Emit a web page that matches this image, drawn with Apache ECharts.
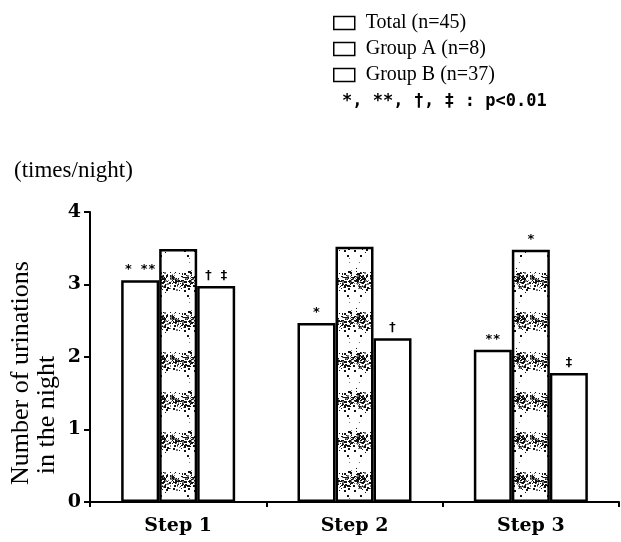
<!DOCTYPE html>
<html>
<head>
<meta charset="utf-8">
<script src="https://cdn.jsdelivr.net/npm/echarts@6/dist/echarts.min.js"></script>
<style>
  html, body { margin: 0; padding: 0; background: #fff; }
  #chart { width: 621px; height: 542px; }
</style>
</head>
<body>
<div id="chart"></div>
<script>
// values
const steps = ['Step 1', 'Step 2', 'Step 3']
const totalVals = [3.06, 2.47, 2.10]
const groupAVals = [3.49, 3.52, 3.48]
const groupBVals = [2.98, 2.26, 1.78]
const totalMarks = ['* **', '*', '**']
const groupAMarks = ['', '', '*']
const groupBMarks = ['† ‡', '†', '‡']
const yTicks = [0, 1, 2, 3, 4]

// speckled band texture for group A (deterministic)
function makeSpeckle () {
  let c = document.createElement('canvas')
  c.width = 40
  c.height = 40
  let ctx = c.getContext('2d')
  ctx.fillStyle = '#fff'
  ctx.fillRect(0, 0, 40, 40)
  let seed = 11
  let rnd = () => { seed = (seed * 1103515245 + 12345) % 2147483648; return seed / 2147483648 }
  for (let y = 0; y < 40; y++) {
    let d = Math.abs((y % 40) - 20) / 20
    let dens = d < 0.45 ? 0.015 : (d - 0.45) * 0.85
    for (let x = 0; x < 40; x++) {
      let edge = (x < 3 || x > 36) ? 1.4 : 1
      if (rnd() < dens * edge) {
        ctx.fillStyle = rnd() < 0.7 ? '#111' : '#777'
        let s = rnd() < 0.3 ? 2 : 1
        ctx.fillRect(x, y, s, s)
      }
    }
  }
  return c
}
const speckle = makeSpeckle()

const markLabel = (marks) => ({
  show: true,
  position: 'top',
  distance: 4,
  color: '#000',
  fontFamily: 'DejaVu Sans Mono',
  fontWeight: 'bold',
  fontSize: 13,
  formatter: p => marks[p.dataIndex]
})

let chart = echarts.init(document.getElementById('chart'))
let option = {
  animation: false,
  backgroundColor: '#fff',
  grid: {
    left: 90,
    right: 2,
    top: 212,
    bottom: 40
  },
  legend: {
    orient: 'vertical',
    left: 333,
    top: 13,
    padding: 0,
    itemWidth: 21,
    itemHeight: 13,
    itemGap: 6,
    icon: 'rect',
    textStyle: {
      fontFamily: 'Liberation Serif',
      fontSize: 20,
      color: '#000',
      padding: [0, 0, 0, 6]
    },
    data: [
      { name: 'Total (n=45)', itemStyle: { color: '#fff', borderColor: '#000', borderWidth: 1.5 } },
      { name: 'Group A (n=8)', itemStyle: { color: '#fff', borderColor: '#000', borderWidth: 1.5 } },
      { name: 'Group B (n=37)', itemStyle: { color: '#fff', borderColor: '#000', borderWidth: 1.5 } }
    ]
  },
  graphic: [
    {
      type: 'text',
      left: 342,
      top: 93,
      style: {
        text: '*, **, †, ‡ : p<0.01',
        font: 'bold 17px "DejaVu Sans Mono"',
        fill: '#000'
      }
    },
    {
      type: 'text',
      left: 14,
      top: 159,
      style: {
        text: '(times/night)',
        font: '23px "Liberation Serif"',
        fill: '#000'
      }
    },
    {
      type: 'text',
      x: 21,
      y: 373,
      rotation: Math.PI / 2,
      style: {
        text: 'Number of urinations',
        font: '26px "Liberation Serif"',
        fill: '#000',
        align: 'center',
        verticalAlign: 'middle'
      }
    },
    {
      type: 'text',
      x: 47,
      y: 415,
      rotation: Math.PI / 2,
      style: {
        text: 'in the night',
        font: '26px "Liberation Serif"',
        fill: '#000',
        align: 'center',
        verticalAlign: 'middle'
      }
    }
  ],
  xAxis: {
    type: 'category',
    data: steps,
    axisLine: { show: true, lineStyle: { color: '#000', width: 2 } },
    axisTick: { show: true, length: 5, lineStyle: { color: '#000', width: 2 } },
    axisLabel: {
      color: '#000',
      fontFamily: 'DejaVu Serif',
      fontWeight: 'bold',
      fontSize: 19,
      margin: 15
    },
    splitLine: { show: false }
  },
  yAxis: {
    type: 'value',
    min: yTicks[0],
    max: yTicks[yTicks.length - 1],
    interval: 1,
    axisLine: { show: true, lineStyle: { color: '#000', width: 2 } },
    axisTick: { show: true, length: 6, lineStyle: { color: '#000', width: 2 } },
    axisLabel: {
      color: '#000',
      fontFamily: 'DejaVu Serif',
      fontWeight: 'bold',
      fontSize: 19,
      margin: 9
    },
    splitLine: { show: false }
  },
  series: [
    {
      name: 'Total (n=45)',
      type: 'bar',
      data: totalVals,
      barWidth: 38,
      barGap: '0%',
      itemStyle: { color: '#fff', borderColor: '#000', borderWidth: 2.5 },
      label: markLabel(totalMarks)
    },
    {
      name: 'Group A (n=8)',
      type: 'bar',
      data: groupAVals,
      barWidth: 38,
      barGap: '0%',
      itemStyle: { color: { image: speckle, repeat: 'repeat' }, borderColor: '#000', borderWidth: 2.5 },
      label: markLabel(groupAMarks)
    },
    {
      name: 'Group B (n=37)',
      type: 'bar',
      data: groupBVals,
      barWidth: 38,
      barGap: '0%',
      itemStyle: { color: '#fff', borderColor: '#000', borderWidth: 2.5 },
      label: markLabel(groupBMarks)
    }
  ]
}
chart.setOption(option)
</script>
</body>
</html>
